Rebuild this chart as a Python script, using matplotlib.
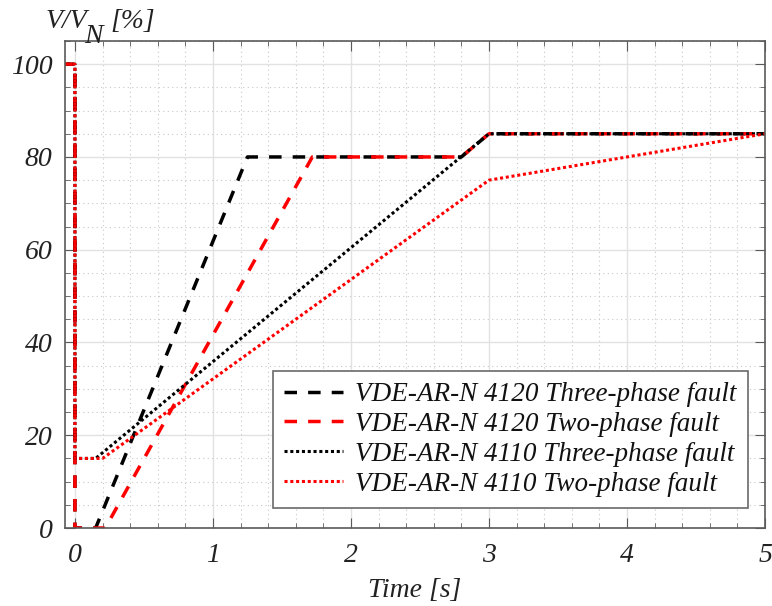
import matplotlib
matplotlib.use("Agg")
import matplotlib.pyplot as plt
from matplotlib.ticker import MultipleLocator

# Data (time in s, voltage in % of nominal)
t_4120_3ph = [-0.1, 0.0, 0.0, 0.15, 1.25, 2.80, 3.0, 5.0]
v_4120_3ph = [100, 100, 0, 0, 80, 80, 85, 85]
t_4120_2ph = [-0.1, 0.0, 0.0, 0.22, 1.72, 2.80, 3.0, 5.0]
v_4120_2ph = [100, 100, 0, 0, 80, 80, 85, 85]
t_4110_3ph = [-0.1, 0.0, 0.0, 0.15, 3.0, 5.0]
v_4110_3ph = [100, 100, 15, 15, 85, 85]
t_4110_2ph = [-0.1, 0.0, 0.0, 0.20, 3.0, 5.0]
v_4110_2ph = [100, 100, 15, 15, 75, 85]

labels = ["VDE-AR-N 4120 Three-phase fault",
          "VDE-AR-N 4120 Two-phase fault",
          "VDE-AR-N 4110 Three-phase fault",
          "VDE-AR-N 4110 Two-phase fault"]
xticks = [0, 1, 2, 3, 4, 5]
yticks = [0, 20, 40, 60, 80, 100]

plt.rcParams['font.family'] = ['Liberation Serif', 'DejaVu Serif']
plt.rcParams['font.style'] = 'italic'

fig = plt.figure(figsize=(7.72, 6.06), dpi=100)
ax = fig.add_axes([65/772, 1-528/606, 700/772, 487/606])

lw_d = 2.5
lw_o = 2.2
ax.plot(t_4120_3ph, v_4120_3ph, color='black', lw=lw_d, dashes=(3.6, 3.2), label=labels[0])
ax.plot(t_4120_2ph, v_4120_2ph, color='red', lw=lw_d, dashes=(3.6, 3.2), label=labels[1])
ax.plot(t_4110_3ph, v_4110_3ph, color='black', lw=lw_o, dashes=(1.0, 0.9), label=labels[2])
ax.plot(t_4110_2ph, v_4110_2ph, color='red', lw=lw_o, dashes=(1.0, 0.9), label=labels[3])

ax.set_xlim(-0.072, 5)
ax.set_ylim(0, 105)
ax.set_xticks(xticks)
ax.set_yticks(yticks)
ax.set_xticklabels([str(v) for v in xticks])
ax.set_yticklabels([str(v) for v in yticks])
ax.xaxis.set_minor_locator(MultipleLocator(0.2))
ax.yaxis.set_minor_locator(MultipleLocator(5))

ax.grid(which='major', color='#e2e2e2', linestyle='-', linewidth=1.0)
ax.grid(which='minor', color='#c8c8c8', linestyle=(0, (1, 3)), linewidth=0.8)
ax.set_axisbelow(True)

for s in ax.spines.values():
    s.set_color('#5a5a5a')
    s.set_linewidth(1.2)
ax.tick_params(which='both', direction='in', top=True, right=True, colors='#5a5a5a',
               labelcolor='#222222', labelsize=20)
ax.tick_params(which='major', length=7)
ax.tick_params(which='minor', length=3.5)
ax.tick_params(axis='x', pad=11)
ax.tick_params(axis='y', pad=9)

ax.set_xlabel("Time [s]", fontsize=20, color='#222222', labelpad=7)

# y label at top-left: V/V_N [%]
fig.text(46/772, 1-28/606, "V/V", fontsize=20, color='#222222', ha='left', va='baseline')
fig.text(84/772, 1-43/606, "N", fontsize=20, color='#222222', ha='left', va='baseline')
fig.text(110/772, 1-28/606, "[%]", fontsize=20, color='#222222', ha='left', va='baseline')

leg = ax.legend(loc='lower right', bbox_to_anchor=(0.975, 0.042), fontsize=19.5,
                frameon=True, fancybox=False, framealpha=1, edgecolor='#6a6a6a',
                handlelength=2.2, handletextpad=0.45, borderpad=0.4, labelspacing=0.18,
                borderaxespad=0.0, borderpad_x=None) if False else ax.legend(
                loc='lower right', bbox_to_anchor=(0.975, 0.042), fontsize=19.5,
                frameon=True, fancybox=False, framealpha=1, edgecolor='#6a6a6a',
                handlelength=2.2, handletextpad=0.45, borderpad=0.4, labelspacing=0.18,
                borderaxespad=0.0)
leg.get_frame().set_linewidth(1.2)
for txt in leg.get_texts():
    txt.set_color('#111111')

fig.savefig("out.png", dpi=100)
